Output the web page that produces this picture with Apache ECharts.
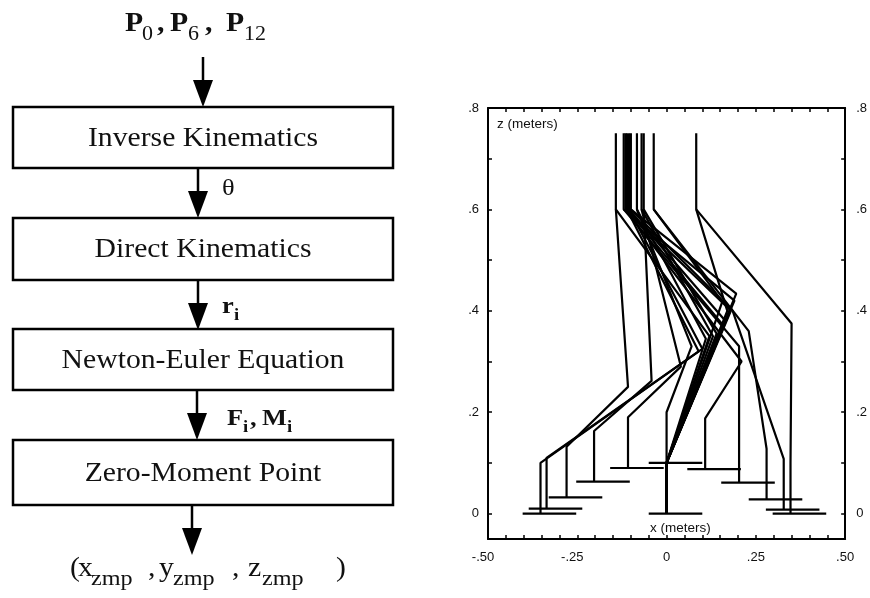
<!DOCTYPE html>
<html><head><meta charset="utf-8">
<script src="https://cdn.jsdelivr.net/npm/echarts@6/dist/echarts.min.js"></script>
<style>html,body{margin:0;padding:0;background:#fff}#c{width:870px;height:598px}</style>
</head><body><div id="c"></div>
<script>
// ---------- data ----------
const stepTitles = ['Inverse Kinematics', 'Direct Kinematics', 'Newton-Euler Equation', 'Zero-Moment Point'];
const xTickLabels = [-0.5, -0.25, 0, 0.25, 0.5];
const zTickLabels = [0, 0.2, 0.4, 0.6, 0.8];
const torsoTopZ = 0.75;
const hipZ = 0.6;
const hipX = [-0.111, -0.105, -0.142, -0.064, -0.07, -0.083, -0.115, -0.12, -0.036, -0.1, 0.083];
const stanceKnee = [[0.16,0.37],[0.165,0.38],[0.12,0.35],[0.14,0.355],[0.13,0.35],[0.11,0.345],[0.18,0.40],[0.19,0.42],[0.156,0.418],[0.195,0.434],[0.17,0.40]];
const stanceAnkle = [0, 0.1];
const stanceSoleZ = 0;
const swingKnee = [[0.09,0.32],[0.10,0.325],[-0.108,0.25],[-0.042,0.262],[0.04,0.29],[0.07,0.33],[0.21,0.30],[0.203,0.33],[0.23,0.36],[0.185,0.40],[0.35,0.375]];
const swingAnkle = [[-0.353,0.10],[-0.336,0.11],[-0.28,0.132],[-0.203,0.163],[-0.108,0.19],[0,0.2],[0.108,0.188],[0.203,0.161],[0.28,0.128],[0.328,0.108],[0.347,0.10]];
const swingSoleZ = [0, 0.01, 0.032, 0.063, 0.09, 0.1, 0.088, 0.061, 0.028, 0.008, 0];
const heelBack = 0.05, toeFwd = 0.1;

// ---------- chart ----------
const chart = echarts.init(document.getElementById('c'), null, {renderer: 'canvas'});
const serif = '"Liberation Serif", "DejaVu Serif", serif';
const sans = '"Liberation Sans", Arial, sans-serif';

function fmtNum(v) {
  if (Math.abs(v) < 1e-9) return '0';
  const ax = Math.abs(v);
  let s = (Math.abs(ax - 0.25) < 1e-9 || Math.abs(ax - 0.5) < 1e-9) ? ax.toFixed(2) : String(Math.round(ax * 10) / 10);
  s = s.replace(/^0/, '');
  return (v < 0 ? '-' : '') + s;
}
function fmtX(v) {
  const s = fmtNum(v);
  return v < 0 ? '{neg|' + s + '}' : s;
}

const series = [];
function addLine(pts) {
  series.push({type: 'line', data: pts, symbol: 'none', silent: true, animation: false,
    lineStyle: {color: '#000', width: 2.2}, z: 3});
}
for (let i = 0; i < hipX.length; i++) {
  const hx = hipX[i];
  addLine([[hx, torsoTopZ], [hx, hipZ], stanceKnee[i], stanceAnkle, [stanceAnkle[0], stanceSoleZ]]);
  addLine([[hx, hipZ], swingKnee[i], swingAnkle[i], [swingAnkle[i][0], swingSoleZ[i]]]);
  addLine([[swingAnkle[i][0] - heelBack, swingSoleZ[i]], [swingAnkle[i][0] + toeFwd, swingSoleZ[i]]]);
}
addLine([[stanceAnkle[0] - heelBack, stanceSoleZ], [stanceAnkle[0] + toeFwd, stanceSoleZ]]);

const xMinor = []; for (let k = -10; k <= 10; k++) xMinor.push(k * 0.05);
const zMinor = []; for (let k = 0; k <= 8; k++) zMinor.push(k * 0.1);

const axisCommon = {
  axisLine: {show: true, onZero: false, lineStyle: {color: '#000', width: 2}},
  splitLine: {show: false},
};

// ---------- flowchart graphic ----------
const SX = 1.1;
const boxes = [[107,168],[218,280],[329,390],[440,505]];
const arrows = [[203,57,107],[198,168,218],[198,280,330],[197,390,440],[192,505,555]];
const g = [];
boxes.forEach((b, i) => {
  g.push({type: 'rect', shape: {x: 13, y: b[0], width: 380, height: b[1] - b[0]},
    style: {fill: '#fff', stroke: '#000', lineWidth: 2.5}});
  g.push({type: 'text', x: 203, y: (b[0] + b[1]) / 2 + 1, scaleX: SX,
    style: {text: stepTitles[i], font: '27px ' + serif, fill: '#111', align: 'center', verticalAlign: 'middle'}});
});
arrows.forEach(a => {
  g.push({type: 'line', shape: {x1: a[0], y1: a[1], x2: a[0], y2: a[2] - 20}, style: {stroke: '#000', lineWidth: 2.5}});
  g.push({type: 'polygon', shape: {points: [[a[0] - 10, a[2] - 27], [a[0] + 10, a[2] - 27], [a[0], a[2]]]}, style: {fill: '#000'}});
});
// text segment placed by baseline
function seg(x, baseline, text, size, bold) {
  g.push({type: 'text', x: x, y: baseline - 0.34 * size, scaleX: SX,
    style: {text: text, font: (bold ? 'bold ' : '') + size + 'px ' + serif, fill: '#111', align: 'left', verticalAlign: 'middle'}});
}
// P0, P6, P12
seg(125, 33, 'P', 27, true); seg(142, 42, '0', 20, false); seg(157, 33, ',', 27, true);
seg(170, 33, 'P', 27, true); seg(188, 42, '6', 20, false); seg(205, 33, ',', 27, true);
seg(226, 33, 'P', 27, true); seg(244, 42, '12', 20, false);
// theta
seg(222, 197, 'θ', 24, false);
// r_i
seg(222, 315, 'r', 24, true); seg(234, 321, 'i', 17, true);
// F_i, M_i
seg(227, 427, 'F', 24, true); seg(243, 433, 'i', 17, true); seg(250, 427, ',', 24, true);
seg(262, 427, 'M', 24, true); seg(287, 433, 'i', 17, true);
// (x_zmp , y_zmp , z_zmp )
seg(70, 578, '(', 27, false); seg(78, 578, 'x', 27, false); seg(91, 587, 'zmp', 22, false);
seg(148, 578, ',', 27, false); seg(159, 578, 'y', 27, false); seg(173, 587, 'zmp', 22, false);
seg(232, 578, ',', 27, false); seg(248, 578, 'z', 27, false); seg(262, 587, 'zmp', 22, false);
seg(336, 578, ')', 27, false);
// axis titles inside plot
g.push({type: 'text', x: 497, y: 117, style: {text: 'z (meters)', font: '13.5px ' + sans, fill: '#111'}});
g.push({type: 'text', x: 650, y: 521, style: {text: 'x (meters)', font: '13.5px ' + sans, fill: '#111'}});

const labelStyle = {color: '#111', fontSize: 13, fontFamily: sans};
chart.setOption({
  animation: false,
  backgroundColor: '#fff',
  grid: {left: 488, top: 108, width: 360, height: 431, containLabel: false},
  xAxis: [
    Object.assign({type: 'value', position: 'bottom', min: -0.5, max: 0.5,
      axisTick: {show: true, inside: true, length: 4, customValues: xMinor, lineStyle: {color: '#000', width: 1.5}},
      axisLabel: Object.assign({show: true, customValues: xTickLabels, formatter: fmtX, margin: 12,
        rich: {neg: {color: '#111', fontSize: 13, fontFamily: sans, padding: [0, 10, 0, 0]}}}, labelStyle)}, axisCommon),
    Object.assign({type: 'value', position: 'top', min: -0.5, max: 0.5,
      axisTick: {show: true, inside: true, length: 4, customValues: xMinor, lineStyle: {color: '#000', width: 1.5}},
      axisLabel: {show: false}}, axisCommon)
  ],
  yAxis: [
    Object.assign({type: 'value', position: 'left', min: -0.05, max: 0.8,
      axisTick: {show: true, inside: true, length: 4, customValues: zMinor, lineStyle: {color: '#000', width: 1.5}},
      axisLabel: Object.assign({show: true, customValues: zTickLabels, formatter: fmtNum, margin: 9}, labelStyle)}, axisCommon),
    Object.assign({type: 'value', position: 'right', min: -0.05, max: 0.8,
      axisTick: {show: true, inside: true, length: 4, customValues: zMinor, lineStyle: {color: '#000', width: 1.5}},
      axisLabel: Object.assign({show: true, customValues: zTickLabels, formatter: fmtNum, margin: 11}, labelStyle)}, axisCommon)
  ],
  series: series,
  graphic: g
});
</script></body></html>
